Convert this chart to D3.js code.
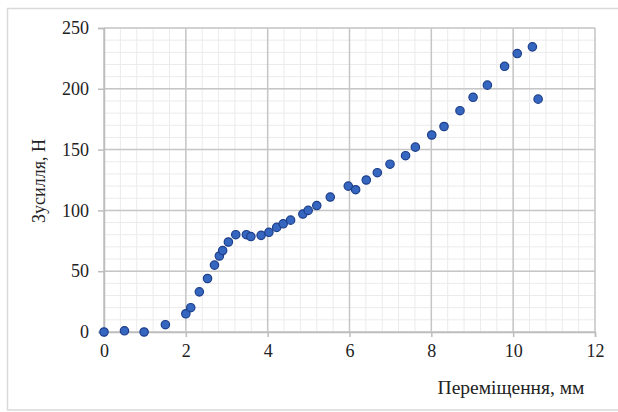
<!DOCTYPE html>
<html>
<head>
<meta charset="utf-8">
<script src="https://cdn.jsdelivr.net/npm/d3@7"></script>
<style>
  body { margin: 0; background: #fff; }
  svg text { font-family: "Liberation Serif", "Times New Roman", serif !important; }
</style>
</head>
<body>
<div id="chart"></div>
<script>
// displacement, mm
const xValues = [0, 0.5, 0.98, 1.5, 2.0, 2.12, 2.33, 2.53, 2.7, 2.82, 2.9, 3.04, 3.22, 3.48, 3.59, 3.84,
  4.03, 4.22, 4.38, 4.56, 4.86, 4.99, 5.2, 5.53, 5.97, 6.15, 6.41, 6.68, 6.99, 7.37, 7.61,
  8.01, 8.31, 8.7, 9.02, 9.37, 9.79, 10.1, 10.47, 10.61]
// force, N
const yValues = [0, 1, 0, 6, 15, 20, 33, 44, 55, 62.5, 67, 74, 80, 80, 78.5, 79.5,
  82, 86, 89, 92, 97, 100, 104, 111, 120, 117, 125, 131, 138, 145, 152,
  162, 169, 182, 193, 203, 218.5, 229, 234.5, 191.5]
const xTicks = [0, 2, 4, 6, 8, 10, 12]
const yTicks = [0, 50, 100, 150, 200, 250]

const W = 618, H = 412
const margin = { left: 104, right: 23, top: 28, bottom: 80 }

const svg = d3.select('#chart').append('svg')
  .attr('width', W)
  .attr('height', H)
  .style('display', 'block')

// outer chart frame
svg.append('rect')
  .attr('x', 7.5).attr('y', 8.5)
  .attr('width', 640).attr('height', 401.5)
  .attr('fill', 'none')
  .attr('stroke', '#d9d9d9')
  .attr('stroke-width', 1.5)

const x = d3.scaleLinear().domain([0, 12]).range([margin.left, W - margin.right])
const y = d3.scaleLinear().domain([0, 250]).range([H - margin.bottom, margin.top])

const g = svg.append('g')

// minor grid: 5 divisions per major step
const xMinor = d3.range(0, 12.001, 0.4)
const yMinor = d3.range(0, 250.001, 10)

g.selectAll('line.xminor').data(xMinor).join('line')
  .attr('class', 'xminor')
  .attr('x1', d => x(d)).attr('x2', d => x(d))
  .attr('y1', y(0)).attr('y2', y(250))
  .attr('stroke', '#ebebeb').attr('stroke-width', 1)

g.selectAll('line.yminor').data(yMinor).join('line')
  .attr('class', 'yminor')
  .attr('y1', d => y(d)).attr('y2', d => y(d))
  .attr('x1', x(0)).attr('x2', x(12))
  .attr('stroke', '#ebebeb').attr('stroke-width', 1)

// major grid
g.selectAll('line.xmajor').data(xTicks).join('line')
  .attr('class', 'xmajor')
  .attr('x1', d => x(d)).attr('x2', d => x(d))
  .attr('y1', y(0)).attr('y2', y(250))
  .attr('stroke', '#c6c6c6').attr('stroke-width', 1.5)

g.selectAll('line.ymajor').data(yTicks).join('line')
  .attr('class', 'ymajor')
  .attr('y1', d => y(d)).attr('y2', d => y(d))
  .attr('x1', x(0)).attr('x2', x(12))
  .attr('stroke', '#c6c6c6').attr('stroke-width', 1.5)

// axes
const xAxis = svg.append('g')
  .attr('transform', `translate(0,${y(0)})`)
  .call(d3.axisBottom(x).tickValues(xTicks).tickSize(5).tickPadding(7).tickFormat(d3.format('d')))
const yAxis = svg.append('g')
  .attr('transform', `translate(${x(0)},0)`)
  .call(d3.axisLeft(y).tickValues(yTicks).tickSize(6).tickPadding(9).tickFormat(d3.format('d')))

for (const ax of [xAxis, yAxis]) {
  ax.attr('font-family', null).attr('font-size', null)
  ax.select('.domain').attr('stroke', '#bdbdbd').attr('stroke-width', 1.5)
  ax.selectAll('.tick line').attr('stroke', '#bdbdbd').attr('stroke-width', 1.5)
  ax.selectAll('.tick text')
    .attr('fill', '#222')
    .style('font-size', '18px')
}

// points
const pts = xValues.map((v, i) => [v, yValues[i]])
svg.append('g').selectAll('circle').data(pts).join('circle')
  .attr('cx', d => x(d[0]))
  .attr('cy', d => y(d[1]))
  .attr('r', 4.2)
  .attr('fill', '#3566c0')
  .attr('stroke', '#1d3f8a')
  .attr('stroke-width', 1.2)

// axis titles
svg.append('text')
  .attr('x', 511).attr('y', 394)
  .attr('text-anchor', 'middle')
  .attr('fill', '#222')
  .style('font-size', '19.5px')
  .text('Переміщення, мм')

svg.append('text')
  .attr('transform', 'translate(45,181) rotate(-90)')
  .attr('text-anchor', 'middle')
  .attr('fill', '#222')
  .style('font-size', '18px')
  .text('Зусилля, Н')
</script>
</body>
</html>
